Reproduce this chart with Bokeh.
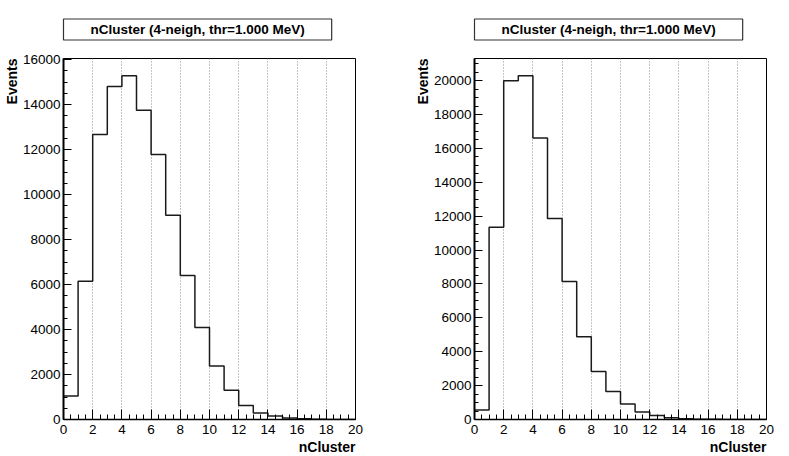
from bokeh.plotting import figure
from bokeh.layouts import row
from bokeh.models import Range1d, SingleIntervalTicker, Title
from bokeh.embed import file_html
from bokeh.resources import INLINE

# ---- data ----
bin_edges = list(range(0, 21))
x_ticks_interval = 2
left_counts = [1050, 6150, 12680, 14810, 15290, 13750, 11790, 9080, 6400, 4090,
               2380, 1300, 620, 290, 160, 70, 30, 10, 4, 1]
right_counts = [560, 11350, 20000, 20295, 16620, 11860, 8150, 4890, 2840, 1660,
                910, 440, 230, 110, 50, 20, 8, 3, 1, 0]
title_text = "nCluster (4-neigh, thr=1.000 MeV)"
x_title = "nCluster"
y_title = "Events"

FONT = "Liberation Sans"


def make_panel(counts, width, border_left, border_right, ytick_interval):
    ymax = 1.05 * max(counts)
    p = figure(width=width, height=456, output_backend="svg", toolbar_location=None,
               x_range=Range1d(0, 20), y_range=Range1d(0, ymax),
               min_border_left=border_left, min_border_right=border_right,
               min_border_top=58, min_border_bottom=37)
    p.background_fill_color = "white"
    p.border_fill_color = "white"
    p.outline_line_color = "black"
    p.outline_line_width = 1

    p.xaxis.ticker = SingleIntervalTicker(interval=x_ticks_interval, num_minor_ticks=4)
    p.yaxis.ticker = SingleIntervalTicker(interval=ytick_interval, num_minor_ticks=4)
    for ax in (p.xaxis, p.yaxis):
        ax.major_tick_out = 0
        ax.minor_tick_out = 0
        ax.major_tick_line_color = "black"
        ax.minor_tick_line_color = "black"
        ax.axis_line_color = "black"
        ax.major_label_text_font = FONT
        ax.major_label_text_font_size = "13.5px"
        ax.major_label_text_color = "black"
    p.xaxis.major_tick_in = 10
    p.xaxis.minor_tick_in = 5
    p.yaxis.major_tick_in = 8
    p.yaxis.minor_tick_in = 4
    p.yaxis.axis_line_width = 2
    p.xaxis.axis_line_width = 1.5
    p.xaxis.major_label_standoff = 5
    p.yaxis.major_label_standoff = 3

    p.ygrid.grid_line_color = None
    p.xgrid.grid_line_color = "#888888"
    p.xgrid.grid_line_dash = "1 2"
    p.xgrid.grid_line_width = 1

    ys = counts + [counts[-1]]
    p.step(x=bin_edges, y=ys, mode="after", line_color="#1a1a1a", line_width=1.5)

    # boxed title above
    p.add_layout(Title(text=title_text, align="left", vertical_align="top",
                       offset=0, standoff=33,
                       text_font=FONT, text_font_style="bold", text_font_size="13.5px",
                       text_color="black",
                       background_fill_color="white",
                       border_line_color="#333333", border_line_width=1.2,
                       padding=(27, 3)), "above")
    # y title on the left, at the top end
    p.add_layout(Title(text=y_title, align="right", offset=0, standoff=0,
                       text_font=FONT, text_font_style="bold", text_font_size="14px",
                       text_color="black"), "left")
    # x title below, at the right end
    p.add_layout(Title(text=x_title, align="right", offset=0, standoff=0,
                       text_font=FONT, text_font_style="bold", text_font_size="14px",
                       text_color="black"), "below")
    return p


p1 = make_panel(left_counts, 394, 63, 39, 2000)
p2 = make_panel(right_counts, 395, 80, 23, 2000)
layout = row(p1, p2)
open("out.html", "w").write(file_html(layout, INLINE))
